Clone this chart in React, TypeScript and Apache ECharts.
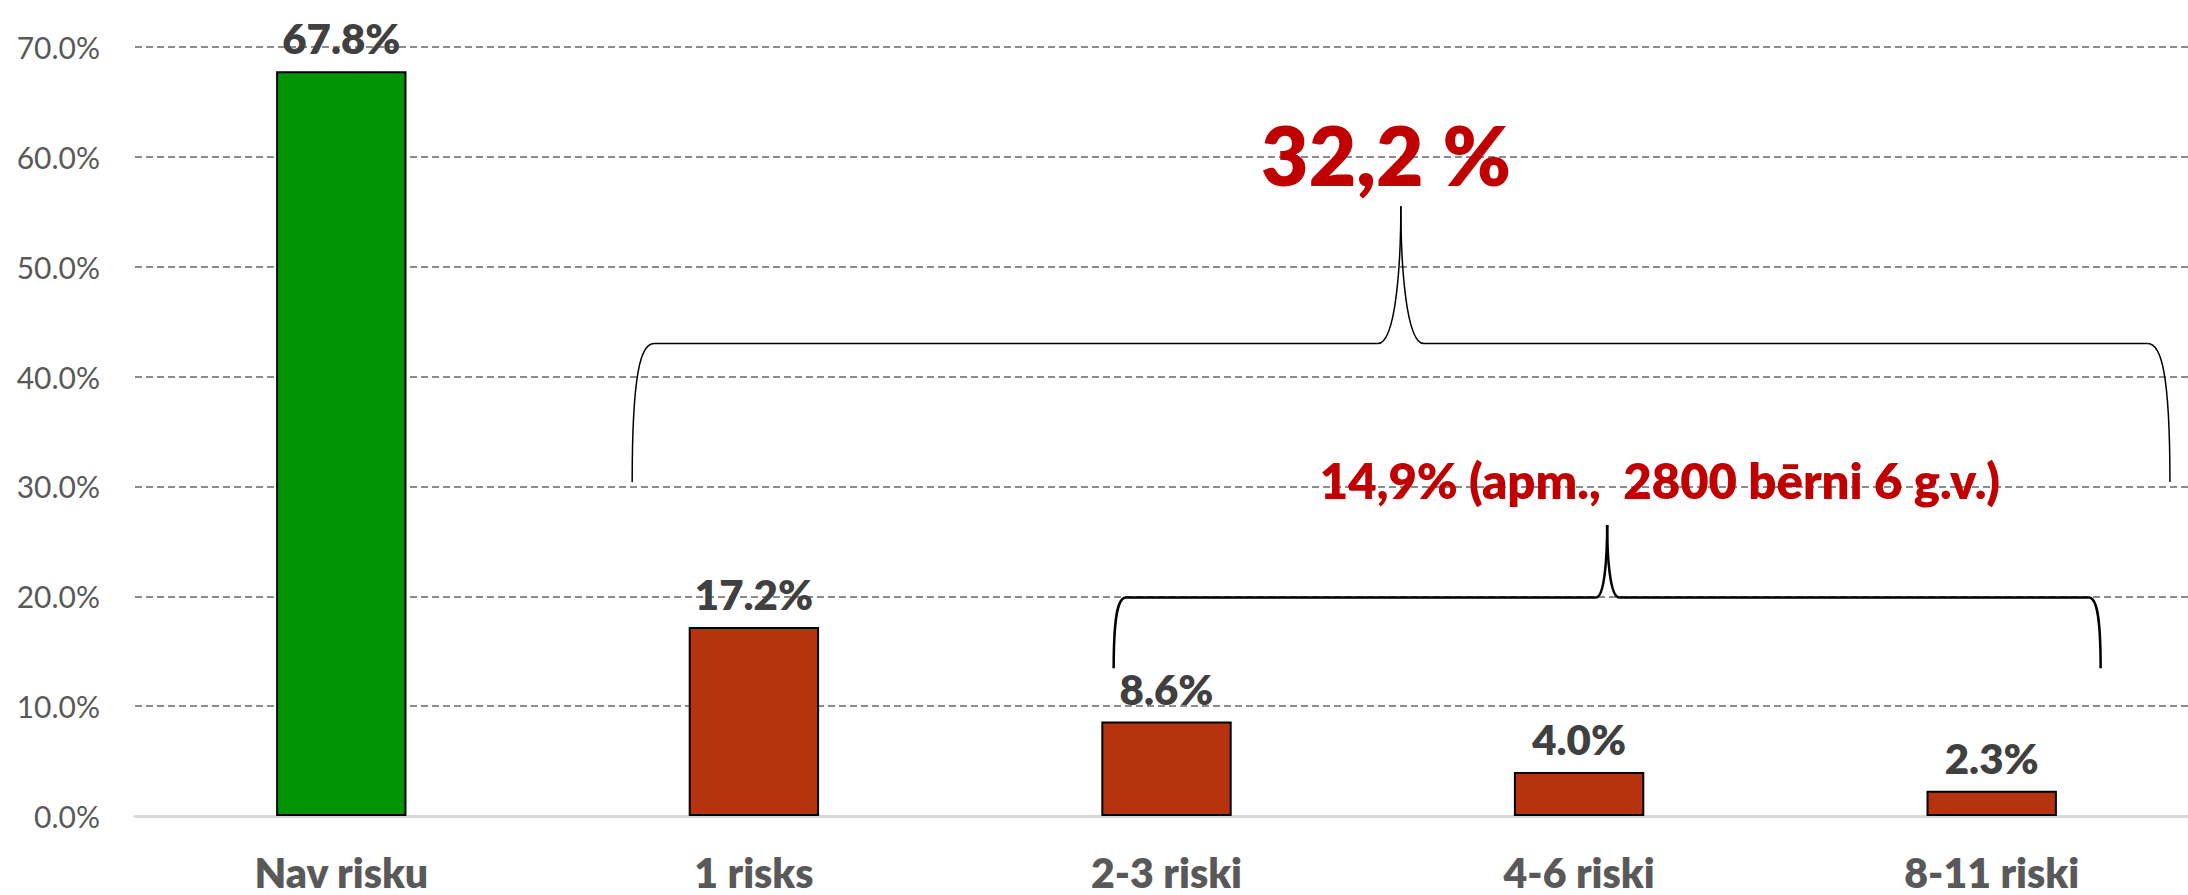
import React, { useEffect, useRef } from "react";
import * as echarts from "echarts";

const categories = ["Nav risku", "1 risks", "2-3 riski", "4-6 riski", "8-11 riski"];
const values = [67.8, 17.2, 8.6, 4.0, 2.3];
const barColors = ["#009405", "#B5340F", "#B5340F", "#B5340F", "#B5340F"];
const yTicks = [0, 10, 20, 30, 40, 50, 60, 70];
const bigBraceText = "32,2 %";
const smallBraceText = "14,9% (apm.,  2800 bērni 6 g.v.)";

const FONT = "Lato, 'Open Sans', sans-serif";

export default function App() {
  const ref = useRef<HTMLDivElement>(null);
  useEffect(() => {
    document.body.style.margin = "0";
    const chart = echarts.init(ref.current!, null, { renderer: "svg" });
    chart.setOption({
      animation: false,
      grid: { left: 135, right: 0, top: 47, bottom: 79, containLabel: false },
      xAxis: {
        type: "category",
        data: categories,
        axisTick: { show: false },
        axisLine: { lineStyle: { color: "#d9d9d9", width: 3 } },
        axisLabel: {
          margin: 36,
          color: "#595959",
          fontSize: 41,
          fontWeight: 800,
          fontFamily: FONT,
        },
      },
      yAxis: {
        type: "value",
        min: yTicks[0],
        max: yTicks[yTicks.length - 1],
        interval: 10,
        axisLine: { show: false },
        axisTick: { show: false },
        axisLabel: {
          margin: 35,
          color: "#595959",
          fontSize: 30,
          fontFamily: FONT,
          formatter: (v: number) => v.toFixed(1) + "%",
        },
        splitLine: { lineStyle: { color: "#8c8c8c", width: 2, type: [7, 4] } },
      },
      series: [
        {
          type: "bar",
          barWidth: "31.6%",
          data: values.map((v, i) => ({
            value: v,
            itemStyle: { color: barColors[i], borderColor: "#000", borderWidth: 2 },
          })),
          label: {
            show: true,
            position: "top",
            distance: 12,
            color: "#404040",
            fontSize: 42,
            fontWeight: 800,
            fontFamily: FONT,
            formatter: (p: any) => p.value.toFixed(1) + "%",
          },
        },
      ],
    });

    const x0 = chart.convertToPixel({ xAxisIndex: 0 }, 0) as number;
    const x1 = chart.convertToPixel({ xAxisIndex: 0 }, 1) as number;
    const X = (c: number) => x0 + (x1 - x0) * c;
    const Y = (v: number) => chart.convertToPixel({ yAxisIndex: 0 }, v) as number;

    const brace = (xl: number, xlc: number, xpl: number, xp: number, xpr: number, xrc: number, xr: number, yb: number, yh: number, yp: number, w: number) => {
      const ls = { stroke: "#000", lineWidth: w, fill: null };
      const B = Y(yb), H = Y(yh), P = Y(yp);
      const L = X(xl), LC = X(xlc), PL = X(xpl), PX = X(xp), PR = X(xpr), RC = X(xrc), R = X(xr);
      return [
        { type: "bezierCurve", shape: { x1: L, y1: B, x2: LC, y2: H, cpx1: L, cpy1: H + (B - H) * 0.2, cpx2: L + (LC - L) * 0.4, cpy2: H }, style: ls, silent: true },
        { type: "line", shape: { x1: LC, y1: H, x2: PL, y2: H }, style: ls, silent: true },
        { type: "bezierCurve", shape: { x1: PL, y1: H, x2: PX, y2: P, cpx1: PL + (PX - PL) * 0.8, cpy1: H, cpx2: PX, cpy2: H - (H - P) * 0.6 }, style: ls, silent: true },
        { type: "bezierCurve", shape: { x1: PX, y1: P, x2: PR, y2: H, cpx1: PX, cpy1: H - (H - P) * 0.6, cpx2: PX + (PR - PX) * 0.2, cpy2: H }, style: ls, silent: true },
        { type: "line", shape: { x1: PR, y1: H, x2: RC, y2: H }, style: ls, silent: true },
        { type: "bezierCurve", shape: { x1: RC, y1: H, x2: R, y2: B, cpx1: RC + (R - RC) * 0.6, cpy1: H, cpx2: R, cpy2: H + (B - H) * 0.2 }, style: ls, silent: true },
      ];
    };

    // brace anchors in (category index, value %) units
    chart.setOption({
      graphic: [
        ...brace(0.705, 0.758, 2.512, 2.568, 2.624, 4.378, 4.432, 30.4, 43.0, 55.5, 1.5),
        ...brace(1.872, 1.902, 3.041, 3.068, 3.097, 4.235, 4.264, 13.45, 19.9, 26.5, 2.5),
        {
          type: "text",
          x: X(2.532),
          y: Y(60.3),
          silent: true,
          style: {
            text: bigBraceText,
            fill: "#C00000",
            font: `800 82px ${FONT}`,
            align: "center",
            verticalAlign: "middle",
          },
        },
        {
          type: "text",
          x: X(3.196),
          y: Y(30.6),
          silent: true,
          style: {
            text: smallBraceText,
            fill: "#C00000",
            font: `800 49px ${FONT}`,
            align: "center",
            verticalAlign: "middle",
          },
        },
      ],
    });

    return () => chart.dispose();
  }, []);
  return (
    <div style={{ width: 2188, height: 895, overflow: "hidden", position: "relative" }}>
      <div ref={ref} style={{ width: 2198, height: 895 }} />
    </div>
  );
}
